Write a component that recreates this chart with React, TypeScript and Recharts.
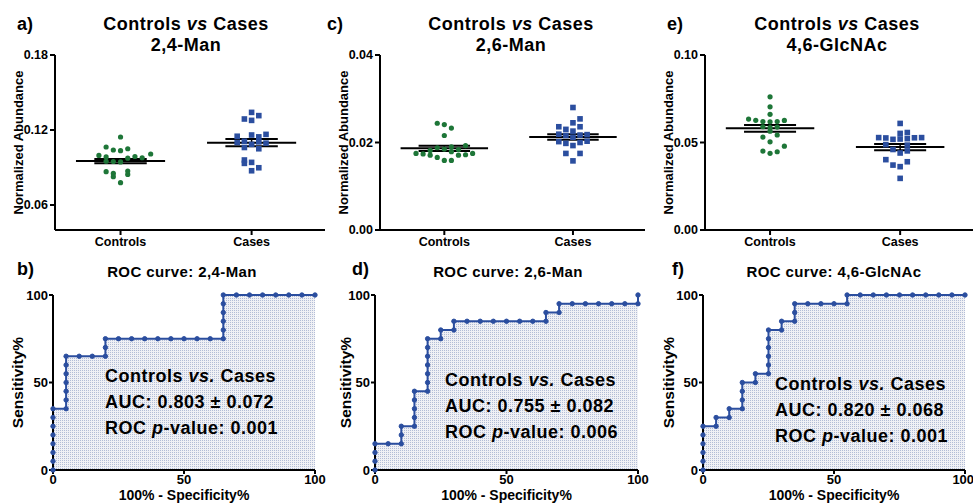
import { Area, ComposedChart, ReferenceLine, Scatter, XAxis, YAxis } from 'recharts';

const GREEN = '#1e7638';
const BLUE = '#2b4e9f';
const FONT = "'Liberation Sans', Arial, Helvetica, sans-serif";

const groupNames = ['Controls', 'Cases'];
const groupTicks = [0, 1];

// a) 2,4-Man  (normalized abundance + horizontal jitter of each dot)
const man24Controls = [0.1144, 0.1064, 0.104, 0.1035, 0.105, 0.0997, 0.1008, 0.0985, 0.0978, 0.0988, 0.0975, 0.0948, 0.0945, 0.095, 0.0867, 0.0853, 0.0827, 0.0872, 0.0845, 0.0779];
const man24ControlsJitter = [0, -0.11, -0.055, 0, 0.055, -0.165, 0.23, -0.11, 0.165, 0.11, 0.055, -0.055, 0, -0.11, -0.11, -0.055, -0.055, 0.055, 0.055, 0];
const man24Cases = [0.1341, 0.1288, 0.1315, 0.1277, 0.115, 0.116, 0.1165, 0.1145, 0.111, 0.11, 0.1105, 0.1095, 0.1085, 0.106, 0.105, 0.096, 0.0933, 0.0941, 0.0898, 0.0874];
const man24CasesJitter = [0, -0.055, 0.055, 0, -0.11, 0, 0.11, 0.055, -0.055, -0.11, 0.055, 0.11, 0, -0.055, 0.055, -0.055, -0.055, 0, 0.055, 0];
const man24Mean = [0.0952, 0.1099];
const man24Sem = [0.0017, 0.0029];

// c) 2,6-Man
const man26Controls = [0.0244, 0.0241, 0.0233, 0.0216, 0.0193, 0.0175, 0.0174, 0.0171, 0.0171, 0.0172, 0.0175, 0.0166, 0.0159, 0.0159, 0.0182, 0.0188, 0.0185, 0.0179, 0.0184, 0.019];
const man26ControlsJitter = [-0.055, 0, 0.055, 0, 0.165, -0.22, -0.165, -0.11, 0.11, 0.165, 0.22, -0.055, 0, 0.055, -0.11, -0.055, 0, 0.055, 0.11, 0.055];
const man26Cases = [0.028, 0.0254, 0.0245, 0.0236, 0.0236, 0.023, 0.0226, 0.0219, 0.0216, 0.0217, 0.0218, 0.0212, 0.0202, 0.0198, 0.0193, 0.02, 0.0203, 0.0175, 0.0175, 0.0158];
const man26CasesJitter = [0, 0.055, 0, -0.11, 0.055, -0.055, 0, -0.11, -0.055, 0.055, 0.11, 0, -0.11, -0.055, 0, 0.055, 0.11, -0.055, 0.055, 0];
const man26Mean = [0.01867, 0.02126];
const man26Sem = [0.0006, 0.00065];

// e) 4,6-GlcNAc
const glcControls = [0.0761, 0.0704, 0.0661, 0.0634, 0.0627, 0.062, 0.0618, 0.062, 0.0626, 0.059, 0.0585, 0.0588, 0.0565, 0.0531, 0.0543, 0.0504, 0.0479, 0.0451, 0.0438, 0.0447];
const glcControlsJitter = [0, 0, 0, -0.165, -0.11, -0.055, 0, 0.055, 0.11, -0.055, 0, 0.055, 0, -0.055, 0.055, 0, 0.11, -0.055, 0, 0.055];
const glcCases = [0.0609, 0.0552, 0.0557, 0.0528, 0.0526, 0.0518, 0.052, 0.0522, 0.0527, 0.0528, 0.0488, 0.0485, 0.046, 0.044, 0.0452, 0.0402, 0.039, 0.0371, 0.0362, 0.0295];
const glcCasesJitter = [0, 0, 0.055, -0.165, -0.11, -0.055, 0, 0.055, 0.11, 0.165, -0.11, 0.055, -0.055, 0, 0.055, -0.11, 0.055, -0.055, 0, 0];
const glcMean = [0.0581, 0.0474];
const glcSem = [0.0019, 0.0018];

// ROC curves: 100% - specificity% (x) and sensitivity% (y)
const rocMan24X = [0, 0, 0, 0, 0, 0, 0, 0, 5, 5, 5, 5, 5, 5, 5, 10, 15, 20, 20, 20, 25, 30, 35, 40, 45, 50, 55, 60, 65, 65, 65, 65, 65, 65, 70, 75, 80, 85, 90, 95, 100];
const rocMan24Y = [0, 5, 10, 15, 20, 25, 30, 35, 35, 40, 45, 50, 55, 60, 65, 65, 65, 65, 70, 75, 75, 75, 75, 75, 75, 75, 75, 75, 75, 80, 85, 90, 95, 100, 100, 100, 100, 100, 100, 100, 100];
const rocMan26X = [0, 0, 0, 0, 5, 10, 10, 10, 15, 15, 15, 15, 15, 20, 20, 20, 20, 20, 20, 20, 25, 25, 30, 30, 35, 40, 45, 50, 55, 60, 65, 65, 70, 70, 75, 80, 85, 90, 95, 100, 100];
const rocMan26Y = [0, 5, 10, 15, 15, 15, 20, 25, 25, 30, 35, 40, 45, 45, 50, 55, 60, 65, 70, 75, 75, 80, 80, 85, 85, 85, 85, 85, 85, 85, 85, 90, 90, 95, 95, 95, 95, 95, 95, 95, 100];
const rocGlcX = [0, 0, 0, 0, 0, 0, 5, 5, 10, 10, 15, 15, 15, 15, 20, 20, 25, 25, 25, 25, 25, 25, 30, 30, 35, 35, 35, 40, 45, 50, 55, 55, 60, 65, 70, 75, 80, 85, 90, 95, 100];
const rocGlcY = [0, 5, 10, 15, 20, 25, 25, 30, 30, 35, 35, 40, 45, 50, 50, 55, 55, 60, 65, 70, 75, 80, 80, 85, 85, 90, 95, 95, 95, 95, 95, 100, 100, 100, 100, 100, 100, 100, 100, 100, 100];
const rocTicks = [0, 50, 100];

const axisLine = { stroke: '#000', strokeWidth: 2 };
const tickStyle = { fill: '#000', fontSize: 12.5, fontWeight: 700 };

const toPoints = (vals: number[], jitter: number[], group: number) =>
    vals.map((v, i) => ({ x: group + jitter[i], y: v }));

const GreenDot = (p: any) => <circle cx={p.cx} cy={p.cy} r={2.6} fill={GREEN} />;
const BlueSquare = (p: any) => (
    <rect x={p.cx - 2.8} y={p.cy - 2.8} width={5.6} height={5.6} fill={BLUE} />
);

type DotPanelProps = {
    left: number;
    width: number;
    marginLeft: number;
    marginRight: number;
    domain: [number, number];
    ticks: number[];
    ctrl: number[];
    ctrlJitter: number[];
    cases: number[];
    casesJitter: number[];
    mean: number[];
    sem: number[];
    labelDx: number;
};

const DotPanel = (p: DotPanelProps) => (
    <div style={{ position: 'absolute', left: p.left, top: 0 }}>
        <ComposedChart
            width={p.width}
            height={250}
            margin={{ top: 55, right: p.marginRight, bottom: 0, left: p.marginLeft }}
        >
            <XAxis
                type="number"
                dataKey="x"
                domain={[-0.5, 1.56]}
                ticks={groupTicks}
                tickFormatter={(v: number) => groupNames[v]}
                allowDataOverflow
                height={20}
                axisLine={axisLine}
                tickLine={axisLine}
                tickSize={5}
                tick={tickStyle}
            />
            <YAxis
                type="number"
                dataKey="y"
                domain={p.domain}
                ticks={p.ticks}
                allowDataOverflow
                tickFormatter={(v: number) => v.toFixed(2)}
                width={45}
                axisLine={axisLine}
                tickLine={axisLine}
                tickSize={5}
                tick={tickStyle}
                label={{
                    value: 'Normalized Abundance',
                    angle: -90,
                    position: 'center',
                    dx: p.labelDx,
                    style: { fill: '#000', fontSize: 13, fontWeight: 700 },
                }}
            />
            <Scatter data={toPoints(p.ctrl, p.ctrlJitter, 0)} shape={GreenDot} isAnimationActive={false} />
            <Scatter data={toPoints(p.cases, p.casesJitter, 1)} shape={BlueSquare} isAnimationActive={false} />
            {groupTicks.map((g) => (
                <ReferenceLine
                    key={`m${g}`}
                    segment={[{ x: g - 0.34, y: p.mean[g] }, { x: g + 0.34, y: p.mean[g] }]}
                    stroke="#000"
                    strokeWidth={2}
                    ifOverflow="visible"
                />
            ))}
            {groupTicks.map((g) => (
                <ReferenceLine
                    key={`u${g}`}
                    segment={[{ x: g - 0.2, y: p.mean[g] + p.sem[g] }, { x: g + 0.2, y: p.mean[g] + p.sem[g] }]}
                    stroke="#000"
                    strokeWidth={2}
                    ifOverflow="visible"
                />
            ))}
            {groupTicks.map((g) => (
                <ReferenceLine
                    key={`l${g}`}
                    segment={[{ x: g - 0.2, y: p.mean[g] - p.sem[g] }, { x: g + 0.2, y: p.mean[g] - p.sem[g] }]}
                    stroke="#000"
                    strokeWidth={2}
                    ifOverflow="visible"
                />
            ))}
            {groupTicks.map((g) => (
                <ReferenceLine
                    key={`v${g}`}
                    segment={[{ x: g, y: p.mean[g] - p.sem[g] }, { x: g, y: p.mean[g] + p.sem[g] }]}
                    stroke="#000"
                    strokeWidth={1.5}
                    ifOverflow="visible"
                />
            ))}
        </ComposedChart>
    </div>
);

type RocPanelProps = {
    id: string;
    left: number;
    width: number;
    marginLeft: number;
    marginRight: number;
    xs: number[];
    ys: number[];
    labelDx: number;
};

const RocPanel = (p: RocPanelProps) => {
    const data = p.xs.map((x, i) => ({ x, y: p.ys[i] }));
    return (
        <div style={{ position: 'absolute', left: p.left, top: 250 }}>
            <ComposedChart
                width={p.width}
                height={254}
                data={data}
                margin={{ top: 45, right: p.marginRight, bottom: 0, left: p.marginLeft }}
            >
                <defs>
                    <pattern id={`roc-${p.id}`} width="2" height="2" patternUnits="userSpaceOnUse">
                        <rect width="2" height="2" fill="#f0f1f5" />
                        <rect width="1" height="1" fill="#b3bdd6" />
                    </pattern>
                </defs>
                <XAxis
                    type="number"
                    dataKey="x"
                    domain={[0, 100]}
                    ticks={rocTicks}
                    height={34}
                    axisLine={axisLine}
                    tickLine={axisLine}
                    tickSize={4}
                    tickMargin={1}
                    tick={{ ...tickStyle, fontSize: 13 }}
                    label={{
                        value: '100% - Specificity%',
                        position: 'insideBottom',
                        offset: 4,
                        style: { fill: '#000', fontSize: 14, fontWeight: 700 },
                    }}
                />
                <YAxis
                    type="number"
                    domain={[0, 100]}
                    ticks={rocTicks}
                    width={40}
                    axisLine={axisLine}
                    tickLine={axisLine}
                    tickSize={4}
                    tickMargin={1}
                    tick={{ ...tickStyle, fontSize: 13 }}
                    label={{
                        value: 'Sensitivity%',
                        angle: -90,
                        position: 'center',
                        dx: p.labelDx,
                        style: { fill: '#000', fontSize: 15.5, fontWeight: 700 },
                    }}
                />
                <Area
                    type="linear"
                    dataKey="y"
                    stroke={BLUE}
                    strokeWidth={2}
                    fill={`url(#roc-${p.id})`}
                    fillOpacity={1}
                    dot={{ r: 2.2, fill: BLUE, stroke: BLUE, strokeWidth: 1 }}
                    activeDot={false}
                    isAnimationActive={false}
                />
            </ComposedChart>
        </div>
    );
};

const Txt = ({ x, y, size, center, children, spacing }: any) => (
    <div
        style={{
            position: 'absolute',
            left: x,
            top: y,
            fontSize: size,
            lineHeight: 1,
            fontWeight: 700,
            whiteSpace: 'nowrap',
            letterSpacing: spacing ?? 0,
            transform: center ? 'translateX(-50%)' : undefined,
        }}
    >
        {children}
    </div>
);

const Note = ({ x, y, auc, p }: { x: number; y: number; auc: string; p: string }) => (
    <div
        style={{
            position: 'absolute',
            left: x,
            top: y,
            fontSize: 18,
            lineHeight: '26px',
            fontWeight: 700,
            letterSpacing: 0.5,
            whiteSpace: 'nowrap',
        }}
    >
        <div>
            Controls <i>vs.</i> Cases
        </div>
        <div>AUC: {auc}</div>
        <div>
            ROC <i>p</i>-value: {p}
        </div>
    </div>
);

export default function App() {
    return (
        <div
            style={{
                position: 'absolute',
                left: 0,
                top: 0,
                width: 973,
                height: 504,
                overflow: 'hidden',
                background: '#fff',
                color: '#000',
                fontFamily: FONT,
            }}
        >
            <DotPanel
                left={0}
                width={330}
                marginLeft={10}
                marginRight={5}
                domain={[0.04, 0.18]}
                ticks={[0.06, 0.12, 0.18]}
                ctrl={man24Controls}
                ctrlJitter={man24ControlsJitter}
                cases={man24Cases}
                casesJitter={man24CasesJitter}
                mean={man24Mean}
                sem={man24Sem}
                labelDx={-14.5}
            />
            <DotPanel
                left={320}
                width={330}
                marginLeft={15}
                marginRight={5}
                domain={[0, 0.04]}
                ticks={[0, 0.02, 0.04]}
                ctrl={man26Controls}
                ctrlJitter={man26ControlsJitter}
                cases={man26Cases}
                casesJitter={man26CasesJitter}
                mean={man26Mean}
                sem={man26Sem}
                labelDx={-14.5}
            />
            <DotPanel
                left={650}
                width={323}
                marginLeft={10}
                marginRight={0}
                domain={[0, 0.1]}
                ticks={[0, 0.05, 0.1]}
                ctrl={glcControls}
                ctrlJitter={glcControlsJitter}
                cases={glcCases}
                casesJitter={glcCasesJitter}
                mean={glcMean}
                sem={glcSem}
                labelDx={-14.5}
            />
            <RocPanel id="b" left={0} width={330} marginLeft={13} marginRight={15} xs={rocMan24X} ys={rocMan24Y} labelDx={-16} />
            <RocPanel id="d" left={320} width={330} marginLeft={15} marginRight={12} xs={rocMan26X} ys={rocMan26Y} labelDx={-10} />
            <RocPanel id="f" left={650} width={323} marginLeft={13} marginRight={8} xs={rocGlcX} ys={rocGlcY} labelDx={-15} />

            <Txt x={17} y={15} size={18}>a)</Txt>
            <Txt x={186} y={15} size={18} center spacing={0.5}>
                Controls <i>vs</i> Cases
            </Txt>
            <Txt x={186} y={35.5} size={18} center spacing={0.5}>2,4-Man</Txt>
            <Txt x={327} y={15} size={18}>c)</Txt>
            <Txt x={511} y={15} size={18} center spacing={0.5}>
                Controls <i>vs</i> Cases
            </Txt>
            <Txt x={511} y={35.5} size={18} center spacing={0.5}>2,6-Man</Txt>
            <Txt x={667} y={15} size={18}>e)</Txt>
            <Txt x={837} y={15} size={18} center spacing={0.5}>
                Controls <i>vs</i> Cases
            </Txt>
            <Txt x={837} y={35.5} size={18} center spacing={0.5}>4,6-GlcNAc</Txt>

            <Txt x={17} y={260} size={18}>b)</Txt>
            <Txt x={182} y={264} size={15} center spacing={0.4}>ROC curve: 2,4-Man</Txt>
            <Txt x={352} y={260} size={18}>d)</Txt>
            <Txt x={508} y={264} size={15} center spacing={0.4}>ROC curve: 2,6-Man</Txt>
            <Txt x={672} y={260} size={18}>f)</Txt>
            <Txt x={834} y={264} size={15} center spacing={0.4}>ROC curve: 4,6-GlcNAc</Txt>

            <Note x={105} y={362.5} auc="0.803 ± 0.072" p="0.001" />
            <Note x={445} y={367} auc="0.755 ± 0.082" p="0.006" />
            <Note x={775} y={371} auc="0.820 ± 0.068" p="0.001" />
        </div>
    );
}
